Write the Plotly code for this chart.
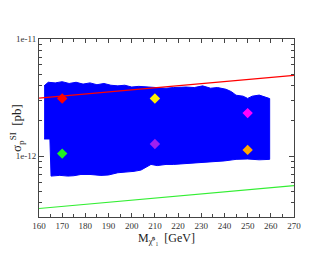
import plotly.graph_objects as go

# Blue scan region boundary (mass in GeV, sigma in pb)
upper_mass = [162.2, 164, 167, 170, 173, 176, 179, 182, 185, 188, 191, 194, 197, 200,
              203, 206, 209, 212, 214.8, 218, 223.4, 227, 230.6, 234, 237, 240.7, 243,
              245, 248, 250, 252, 255, 257.9, 259.5]
upper_sig = [3.98e-12, 4.27e-12, 4.22e-12, 4.32e-12, 4.17e-12, 4.27e-12, 4.12e-12, 4.22e-12,
             4.07e-12, 4.17e-12, 4.03e-12, 3.98e-12, 4.03e-12, 3.89e-12, 3.94e-12, 3.89e-12,
             3.85e-12, 3.80e-12, 3.80e-12, 3.85e-12, 3.89e-12, 3.85e-12, 3.98e-12, 3.80e-12,
             3.85e-12, 3.72e-12, 3.55e-12, 3.31e-12, 3.25e-12, 3.11e-12, 3.25e-12, 3.32e-12,
             3.16e-12, 3.10e-12]
lower_mass = [259.5, 255, 250, 245, 240, 236.4, 232, 227.7, 222, 218, 214.8, 211, 208.3,
              204, 201, 197, 194, 190, 186.7, 182, 178.1, 175, 172.4, 169, 165.2, 164.7,
              164.7, 162.2]
lower_sig = [9.38e-13, 9.30e-13, 9.45e-13, 9.38e-13, 9.10e-13, 8.99e-13, 8.85e-13, 8.71e-13,
             8.60e-13, 8.49e-13, 8.49e-13, 8.30e-13, 8.49e-13, 7.60e-13, 7.41e-13, 7.30e-13,
             7.21e-13, 6.90e-13, 6.84e-13, 6.97e-13, 6.97e-13, 6.80e-13, 6.75e-13, 6.85e-13,
             6.75e-13, 1.40e-12, 1.40e-12, 1.40e-12]

# Limit lines
red_mass = [160, 270]
red_sig = [3.13e-12, 4.9e-12]
green_mass = [160, 270]
green_sig = [3.57e-13, 5.6e-13]

# Benchmark points
bp_mass = [170, 210, 250, 170, 210, 250]
bp_sig = [3.1e-12, 3.1e-12, 2.33e-12, 1.05e-12, 1.27e-12, 1.13e-12]
bp_color = ["#FF0000", "#FFEE00", "#FF00FF", "#22EE22", "#A020F0", "#FFA500"]

fig = go.Figure()
fig.add_trace(go.Scatter(
    x=upper_mass + lower_mass, y=upper_sig + lower_sig,
    fill="toself", fillcolor="#0000FF", mode="lines",
    line=dict(color="#0000FF", width=1), hoverinfo="skip", showlegend=False))
fig.add_trace(go.Scatter(x=red_mass, y=red_sig, mode="lines",
                         line=dict(color="#FF0000", width=1.2), showlegend=False))
fig.add_trace(go.Scatter(x=green_mass, y=green_sig, mode="lines",
                         line=dict(color="#33EE33", width=1.2), showlegend=False))
fig.add_trace(go.Scatter(x=bp_mass, y=bp_sig, mode="markers",
                         marker=dict(symbol="diamond", size=8, color=bp_color,
                                     line=dict(width=0)), showlegend=False))

axis_font = dict(family="Liberation Serif", size=9, color="#333333")
fig.update_layout(
    width=330, height=255,
    margin=dict(l=31, r=44, t=31, b=46),
    paper_bgcolor="white", plot_bgcolor="white",
    font=dict(family="Liberation Serif", color="#222222"),
    xaxis=dict(range=[160, 270], tickvals=list(range(160, 271, 10)),
               automargin=False,
               ticks="inside", ticklen=4, tickcolor="#444444",
               minor=dict(tickvals=list(range(165, 270, 10)), ticks="inside",
                          ticklen=3, tickcolor="#444444"),
               showline=True, linecolor="#444444", linewidth=1, mirror="ticks",
               showgrid=False, zeroline=False, tickfont=axis_font,
               title=dict(text="M<sub>χ̃⁰₁</sub>  [GeV]",
                          font=dict(family="Liberation Serif", size=12, color="#222222"),
                          standoff=2)),
    yaxis=dict(type="log", range=[-12.52, -11], tickvals=[1e-12, 1e-11],
               automargin=False,
               ticktext=["1e-12", "1e-11"], ticks="inside", ticklen=5,
               tickcolor="#444444",
               minor=dict(tickvals=[k * 1e-13 for k in range(4, 10)] +
                          [k * 1e-12 for k in range(2, 10)],
                          ticks="inside", ticklen=3, tickcolor="#444444"),
               showline=True, linecolor="#444444", linewidth=1, mirror="ticks",
               showgrid=False, zeroline=False, tickfont=axis_font,
               title=dict(text="σ<sub>p</sub><sup>SI</sup>  [pb]",
                          font=dict(family="Liberation Serif", size=13, color="#222222"),
                          standoff=0)),
)
fig.write_html("out.html")
